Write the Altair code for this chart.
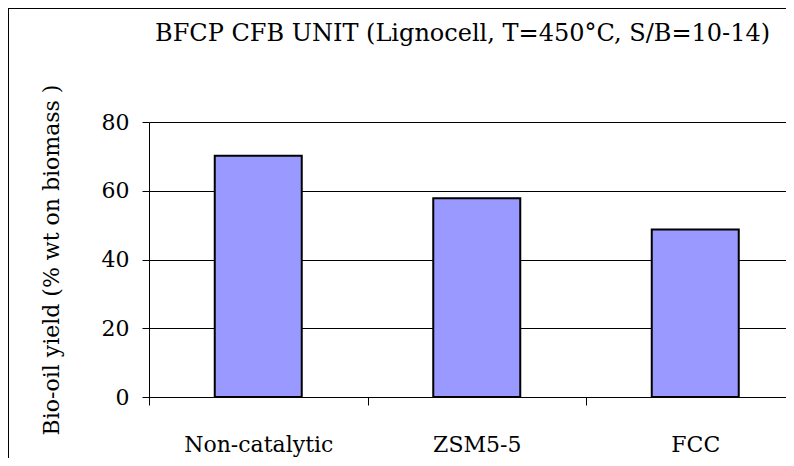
import altair as alt
import pandas as pd

categories = ["Non-catalytic", "ZSM5-5", "FCC"]
yields = [70.2, 57.8, 48.7]
title_text = "BFCP CFB UNIT (Lignocell, T=450°C, S/B=10-14)"
y_title = "Bio-oil yield (% wt on biomass )"
y_ticks = [0, 20, 40, 60, 80]

FONT = "DejaVu Serif"

df = pd.DataFrame({"catalyst": categories, "yield": yields})

bars = alt.Chart(df).mark_bar(
    size=87, color="#9999FF", stroke="#000000", strokeWidth=2
).encode(
    x=alt.X(
        "catalyst:N", sort=categories, title=None,
        scale=alt.Scale(range=[0, 655.5], paddingInner=0, paddingOuter=0),
        axis=alt.Axis(
            labelAngle=0, tickBand="extent", tickSize=8, labelPadding=29,
            labelFontSize=22, labelFont=FONT, labelColor="black",
            domainColor="black", tickColor="black", grid=False,
        ),
    ),
    y=alt.Y(
        "yield:Q", title=y_title,
        scale=alt.Scale(domain=[0, 80], nice=False),
        axis=alt.Axis(
            values=y_ticks, tickSize=7, labelPadding=13,
            labelFontSize=22, labelFont=FONT, labelColor="black",
            titleFont=FONT, titleFontSize=22, titleFontWeight="normal",
            titleColor="black", titlePadding=38,
            domainColor="black", tickColor="black",
            grid=True, gridColor="black", gridWidth=1,
        ),
    ),
)

frame_df = pd.DataFrame({"k": [0]})
left_border = alt.Chart(frame_df).mark_rule(color="#000000", strokeWidth=1).encode(
    x=alt.value(-140.5), y=alt.value(-114), y2=alt.value(336)
)
top_border = alt.Chart(frame_df).mark_rule(color="#000000", strokeWidth=1).encode(
    x=alt.value(-141), x2=alt.value(637), y=alt.value(-113.5)
)

chart = alt.layer(bars, left_border, top_border).properties(
    width=637,
    height=275,
    title=alt.Title(
        title_text, font=FONT, fontSize=24, fontWeight="normal", color="black",
        anchor="start", frame="group", dx=6, offset=-38,
    ),
    autosize=alt.AutoSizeParams(type="none"),
    padding={"left": 141, "top": 114, "right": 0, "bottom": 61},
).configure_view(stroke=None).configure(background="white", font=FONT)

chart.save("out.html", embed_options={"renderer": "svg", "actions": False})
